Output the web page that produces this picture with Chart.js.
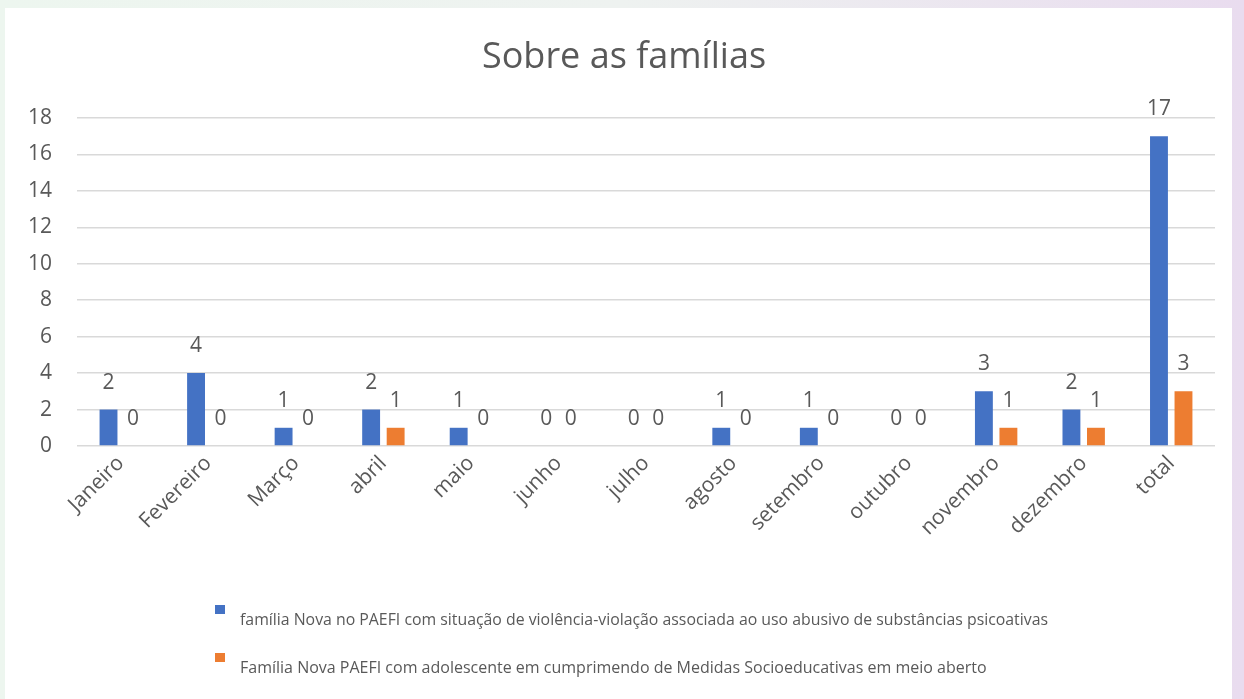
<!DOCTYPE html>
<html>
<head>
<meta charset="utf-8">
<script src="https://cdn.jsdelivr.net/npm/chart.js@4/dist/chart.umd.min.js"></script>
<style>
  html, body { margin: 0; padding: 0; }
  body {
    width: 1244px; height: 699px; overflow: hidden;
    background: linear-gradient(90deg, #edf6ef 0%, #eef2f0 50%, #e9dcef 100%);
  }
  .card {
    position: absolute; left: 5px; top: 8px; width: 1227px; height: 691px;
    background: #ffffff;
  }
  canvas { display: block; }
</style>
</head>
<body>
<div class="card"><canvas id="familias-chart" width="1227" height="691"></canvas></div>
<script>
// Chart data
const months = ['Janeiro', 'Fevereiro', 'Março', 'abril', 'maio', 'junho', 'julho',
  'agosto', 'setembro', 'outubro', 'novembro', 'dezembro', 'total'];
const substanciasValues = [2, 4, 1, 2, 1, 0, 0, 1, 1, 0, 3, 2, 17];
const medidasValues = [0, 0, 0, 1, 0, 0, 0, 0, 0, 0, 1, 1, 3];
const yTicks = [0, 2, 4, 6, 8, 10, 12, 14, 16, 18];
const chartTitle = 'Sobre as famílias';
const seriesNames = [
  'família Nova no PAEFI com situação de violência-violação associada ao uso abusivo de substâncias psicoativas',
  'Família Nova PAEFI com adolescente em cumprimendo de Medidas Socioeducativas em meio aberto'
];

const textGray = '#595959';
const gridGray = '#d9d9d9';

// Title drawn by hand: the original sits a bit right of the canvas centre
const offsetTitle = {
  id: 'offsetTitle',
  afterDraw(chart) {
    const ctx = chart.ctx;
    ctx.save();
    ctx.font = "36px 'Open Sans', sans-serif";
    ctx.fillStyle = textGray;
    ctx.textAlign = 'center';
    ctx.textBaseline = 'alphabetic';
    ctx.fillText(chartTitle, 619, 60);
    ctx.restore();
  }
};

// Value labels above each bar (no datalabels plugin available)
const valueLabels = {
  id: 'valueLabels',
  afterDatasetsDraw(chart) {
    const ctx = chart.ctx;
    ctx.save();
    ctx.font = "21px 'Open Sans', sans-serif";
    ctx.fillStyle = textGray;
    ctx.textAlign = 'center';
    ctx.textBaseline = 'middle';
    chart.data.datasets.forEach((ds, i) => {
      chart.getDatasetMeta(i).data.forEach((bar, j) => {
        ctx.fillText(String(ds.data[j]), bar.x, bar.y - 27);
      });
    });
    ctx.restore();
  }
};

// Legend stacked on two lines, left aligned, small box raised above the text
const stackedLegend = {
  id: 'stackedLegend',
  afterDraw(chart) {
    const ctx = chart.ctx;
    ctx.save();
    ctx.font = "16px 'Open Sans', sans-serif";
    ctx.textBaseline = 'middle';
    const widths = [808, 750];
    chart.data.datasets.forEach((ds, i) => {
      const y = 612 + i * 48;
      ctx.fillStyle = ds.backgroundColor;
      ctx.fillRect(210, y - 15, 10, 9);
      ctx.fillStyle = textGray;
      ctx.fillText(ds.label, 235, y, widths[i]);
    });
    ctx.restore();
  }
};

new Chart(document.getElementById('familias-chart'), {
  type: 'bar',
  data: {
    labels: months,
    datasets: [{
      label: seriesNames[0],
      data: substanciasValues,
      backgroundColor: '#4472c4',
      categoryPercentage: 0.56,
      barPercentage: 0.73
    }, {
      label: seriesNames[1],
      data: medidasValues,
      backgroundColor: '#ed7d31',
      categoryPercentage: 0.56,
      barPercentage: 0.73
    }]
  },
  options: {
    responsive: false,
    animation: false,
    layout: { padding: { left: 0, right: 17, top: 110, bottom: 123 } },
    scales: {
      y: {
        min: 0,
        max: 18,
        afterBuildTicks: axis => { axis.ticks = yTicks.map(v => ({ value: v })); },
        afterFit: axis => { axis.width = 72; },
        border: { display: false },
        grid: { color: gridGray, lineWidth: 1.5, drawTicks: false },
        ticks: {
          color: textGray,
          font: { family: "'Open Sans', sans-serif", size: 21 },
          padding: 25
        }
      },
      x: {
        afterFit: axis => { axis.height = 130; },
        border: { display: false },
        grid: { display: false },
        ticks: {
          color: textGray,
          font: { family: "'Open Sans', sans-serif", size: 21 },
          minRotation: 45,
          maxRotation: 45,
          padding: -3
        }
      }
    },
    plugins: {
      legend: { display: false },
      tooltip: { enabled: false },
      title: { display: false }
    }
  },
  plugins: [offsetTitle, valueLabels, stackedLegend]
});
</script>
</body>
</html>
